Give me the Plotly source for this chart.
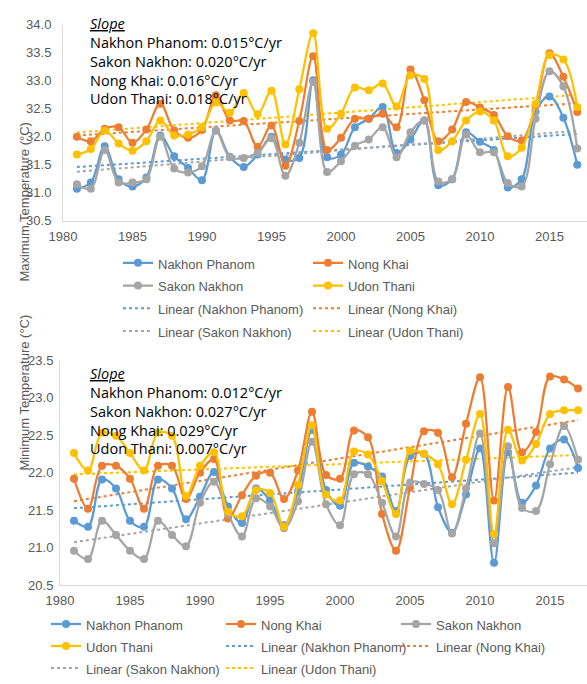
import numpy as np
import plotly.graph_objects as go

years = list(range(1981, 2018))
stations = ["Nakhon Phanom", "Nong Khai", "Sakon Nakhon", "Udon Thani"]
colors = ["#5B9BD5", "#ED7D31", "#A5A5A5", "#FFC000"]

np_max = [31.07, 31.18, 31.83, 31.24, 31.11, 31.27, 32.02, 31.65, 31.44, 31.22, 32.11, 31.64, 31.46,
          31.68, 32.00, 31.59, 31.62, 33.01, 31.63, 31.68, 32.17, 32.32, 32.53, 31.71, 31.95, 32.29,
          31.13, 31.24, 32.08, 31.91, 31.76, 31.09, 31.24, 32.45, 32.72, 32.34, 31.50]
nk_max = [32.00, 31.92, 32.14, 32.17, 31.89, 32.13, 32.59, 32.11, 31.98, 32.12, 32.74, 32.29, 32.28,
          31.82, 32.20, 31.48, 32.28, 33.44, 31.76, 31.98, 32.32, 32.32, 32.41, 32.17, 33.20, 32.65,
          31.92, 32.13, 32.62, 32.52, 32.39, 32.01, 31.93, 32.55, 33.49, 33.07, 32.44]
sn_max = [31.15, 31.07, 31.76, 31.18, 31.18, 31.24, 32.00, 31.43, 31.36, 31.47, 32.11, 31.63, 31.62,
          31.71, 31.97, 31.30, 31.89, 32.98, 31.37, 31.56, 31.84, 31.95, 32.17, 31.63, 32.08, 32.29,
          31.20, 31.24, 32.04, 31.72, 31.72, 31.17, 31.11, 32.32, 33.17, 32.90, 31.79]
ut_max = [31.68, 31.78, 32.11, 31.88, 31.75, 31.92, 32.29, 32.02, 32.04, 32.17, 32.61, 32.43, 32.78,
          32.40, 32.82, 31.86, 32.85, 33.85, 32.14, 32.41, 32.88, 32.83, 32.95, 32.54, 33.10, 33.03,
          31.76, 31.92, 32.29, 32.45, 32.29, 31.65, 31.80, 32.59, 33.46, 33.38, 32.53]

np_min = [21.36, 21.28, 21.91, 21.79, 21.36, 21.28, 21.91, 21.79, 21.38, 21.68, 22.01, 21.55, 21.33,
          21.79, 21.63, 21.30, 21.75, 22.57, 21.77, 21.56, 22.13, 22.08, 21.95, 21.49, 22.22, 22.25,
          21.54, 21.20, 21.71, 22.32, 20.80, 22.27, 21.60, 21.83, 22.32, 22.44, 22.06]
nk_min = [21.92, 21.52, 22.09, 22.09, 21.92, 21.52, 22.09, 22.09, 21.65, 22.00, 22.18, 21.39, 21.70,
          21.96, 22.00, 21.65, 22.03, 22.81, 21.97, 21.92, 22.56, 22.47, 21.45, 20.96, 21.80, 22.55,
          22.53, 21.94, 22.65, 23.27, 21.63, 23.14, 22.27, 22.54, 23.28, 23.24, 23.12]
sn_min = [20.96, 20.85, 21.36, 21.17, 20.96, 20.85, 21.36, 21.17, 21.02, 21.60, 21.88, 21.45, 21.15,
          21.66, 21.55, 21.26, 21.62, 22.41, 21.58, 21.30, 21.98, 21.98, 21.60, 21.15, 21.87, 21.85,
          21.77, 21.19, 21.79, 22.52, 21.06, 22.35, 21.53, 21.49, 22.11, 22.62, 22.17]
ut_min = [22.26, 22.03, 22.53, 22.49, 22.26, 22.03, 22.53, 22.49, 21.69, 22.09, 22.27, 21.48, 21.42,
          21.77, 21.73, 21.28, 21.84, 22.63, 21.71, 21.63, 22.28, 22.24, 21.89, 21.45, 22.29, 22.25,
          22.11, 21.58, 22.17, 22.78, 21.18, 22.57, 22.16, 22.38, 22.78, 22.83, 22.83]

max_slopes = ["0.015", "0.020", "0.016", "0.018"]   # order as printed in the box
min_slopes = ["0.012", "0.027", "0.029", "0.007"]
slope_names = ["Nakhon Phanom", "Sakon Nakhon", "Nong Khai", "Udon Thani"]

W, H = 587, 684
ML = 45
GW = W - ML

TICKFONT = dict(family="Liberation Sans, Arial, sans-serif", size=13, color="#595959")
LEGFONT_SIZE_TOP = 15.2
LEGFONT_SIZE_BOT = 14.6


def py(p):
    return 1 - p / H


def px(p):
    return (p - ML) / GW


fig = go.Figure()


def add_panel(series, xa, ya, legend):
    for i, (name, vals) in enumerate(zip(stations, series)):
        coef = np.polyfit(years, vals, 1)
        xs = [years[0], years[-1]]
        ys = list(np.polyval(coef, xs))
        fig.add_trace(go.Scatter(
            x=xs, y=ys, mode="lines", xaxis=xa, yaxis=ya, legend=legend,
            name=f'<span style="font-size:13px">Linear ({name})</span>',
            line=dict(color=colors[i], width=2, dash="dot"),
            legendrank=10 + i, hoverinfo="skip"))
    for i, (name, vals) in enumerate(zip(stations, series)):
        fig.add_trace(go.Scatter(
            x=years, y=vals, mode="lines+markers", xaxis=xa, yaxis=ya, legend=legend,
            name=f'<span style="font-size:13px">{name}</span>',
            line=dict(color=colors[i], width=2.25, shape="spline", smoothing=1.0),
            marker=dict(color=colors[i], size=8),
            legendrank=i + 1))


add_panel([np_max, nk_max, sn_max, ut_max], "x", "y", "legend")
add_panel([np_min, nk_min, sn_min, ut_min], "x2", "y2", "legend2")

axis_common = dict(showgrid=False, zeroline=False, showline=True, linecolor="#D9D9D9",
                   linewidth=1, ticks="", tickfont=TICKFONT)

fig.update_layout(
    width=W, height=H,
    margin=dict(l=ML, r=0, t=0, b=0),
    paper_bgcolor="white", plot_bgcolor="white",
    xaxis=dict(domain=[px(63), 1.0], range=[1980, 2017.7], tick0=1980, dtick=5,
               anchor="y", ticklabelstandoff=4, **axis_common),
    yaxis=dict(domain=[py(219), py(18.3)], range=[30.5, 34.0], dtick=0.5, tickformat=".1f",
               anchor="x", ticklabelstandoff=8, **axis_common),
    xaxis2=dict(domain=[px(60), 1.0], range=[1980, 2017.64], tick0=1980, dtick=5,
                anchor="y2", ticklabelstandoff=3, **axis_common),
    yaxis2=dict(domain=[py(593), py(362)], range=[20.5, 23.5], dtick=0.5, tickformat=".1f",
                anchor="x2", ticklabelstandoff=3, **axis_common),
    legend=dict(orientation="h", x=px(118), y=py(245.5), xanchor="left", yanchor="top",
                entrywidth=145, entrywidthmode="pixels", traceorder="normal",
                font=dict(family="Liberation Sans, Arial, sans-serif", size=LEGFONT_SIZE_TOP,
                          color="#595959"),
                bgcolor="rgba(0,0,0,0)"),
    legend2=dict(orientation="h", x=px(46), y=py(616.5), xanchor="left", yanchor="top",
                 entrywidth=130, entrywidthmode="pixels", traceorder="normal",
                 font=dict(family="Liberation Sans, Arial, sans-serif", size=LEGFONT_SIZE_BOT,
                           color="#595959"),
                 bgcolor="rgba(0,0,0,0)"),
    showlegend=True,
)


def slope_text(vals):
    lines = ["<i><u>Slope</u></i>"] + [f"{n}: {v}°C/yr" for n, v in zip(slope_names, vals)]
    return "<br>".join(lines)


ann_font = dict(family="Open Sans, sans-serif", size=14.5, color="#000000")
fig.add_annotation(xref="paper", yref="paper", x=px(88), y=py(5.5), xanchor="left", yanchor="top",
                   align="left", showarrow=False, text=slope_text(max_slopes), font=ann_font)
fig.add_annotation(xref="paper", yref="paper", x=px(88), y=py(364.5), xanchor="left", yanchor="top",
                   align="left", showarrow=False, text=slope_text(min_slopes), font=ann_font)

title_font = dict(family="Liberation Sans, Arial, sans-serif", size=13, color="#595959")
fig.add_annotation(xref="paper", yref="paper", x=px(15), y=py(116), textangle=-90,
                   showarrow=False, text="Maximum Temperature (°C)", font=title_font)
fig.add_annotation(xref="paper", yref="paper", x=px(15), y=py(478), textangle=-90,
                   showarrow=False, text="Minimum Temperature (°C)", font=title_font)

fig.write_html("out.html", config={"displayModeBar": False},
               post_script="document.body.style.margin='0px';document.body.style.overflow='hidden';")
